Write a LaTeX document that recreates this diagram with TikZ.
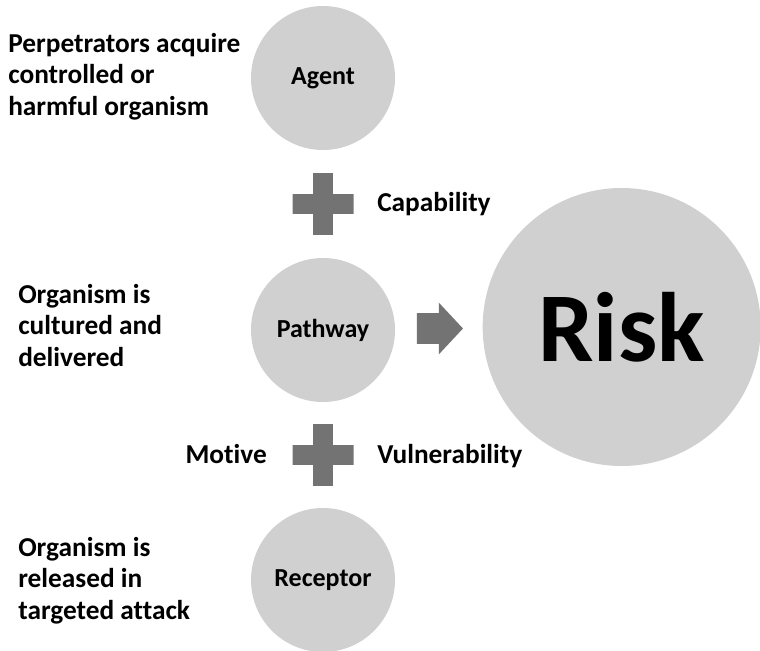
\documentclass[tikz,border=0pt]{standalone}
\usepackage{fontspec}
\setmainfont{Carlito}[Ligatures=NoCommon]
\usetikzlibrary{positioning,calc,shapes.arrows}
\definecolor{circlegray}{RGB}{208,208,208}
\definecolor{signgray}{RGB}{115,115,115}

\begin{document}
\begin{tikzpicture}[
    x=0.75pt, y=-0.75pt,
    node distance=189pt,
    stage/.style={
		circle,
		fill=circlegray,
		minimum size=108pt,
		inner sep=0pt,
		font=\fontsize{19.5}{23}\selectfont\bfseries
	},
	note/.style={
		anchor=base west,
		align=left,
		inner sep=0pt,
		font=\fontsize{20.5}{23.5}\selectfont\bfseries
	},
	plus/.style={
		minimum size=45.75pt,
		inner sep=0pt,
		path picture={
			\fill [signgray] ([xshift=-22.9pt, yshift=-7.5pt]path picture bounding box.center)
				rectangle ([xshift=22.9pt, yshift=7.5pt]path picture bounding box.center);
			\fill [signgray] ([xshift=-7.5pt, yshift=-22.9pt]path picture bounding box.center)
				rectangle ([xshift=7.5pt, yshift=22.9pt]path picture bounding box.center);
		}
	},
	bigarrow/.style={
		single arrow,
		fill=signgray,
		inner sep=0pt,
		minimum height=34.5pt,
		single arrow head extend=7.9pt,
		single arrow tip angle=94
	}
  ]
  \useasboundingbox (0,0) rectangle (760,650);

    % the three stages down the middle
  \node [stage] (agent) at (323,78) {Agent};
  \node [stage, below of=agent] (pathway) {Pathway};
  \node [stage, below of=pathway, yshift=1.5pt] (receptor) {Receptor};

  \node [stage, right of=pathway, node distance=224pt, yshift=2.25pt,
         minimum size=208.5pt, font=\fontsize{74}{80}\selectfont\bfseries] (risk) {Risk};

    % plus signs and the arrow into risk
  \node [plus] (plusa) at ($(agent)!0.5!(pathway)$) {};
  \node [plus] (plusb) at ($(pathway)!0.5!(receptor)$) {};
  \node [bigarrow, xshift=-4.5pt] (torisk) at ($(pathway.east)!0.5!(risk.west)$) {\rule{0pt}{22.5pt}};

    % side texts (base = last line)
  \node [note] (agentnote) at (8,115)
 {Perpetrators acquire\\controlled or\\harmful organism};
  \node [note] (pathwaynote) at (18,366)
 {Organism is\\cultured and\\delivered};
  \node [note] (receptornote) at (18,619)
 {Organism is\\released in\\targeted attack};

  \node [note] (capability) at (377,211) {Capability};
  \node [note, anchor=base east] (motive) at (267,463) {Motive};
  \node [note] (vulnerability) at (377,463) {Vulnerability};

\end{tikzpicture}
\end{document}
